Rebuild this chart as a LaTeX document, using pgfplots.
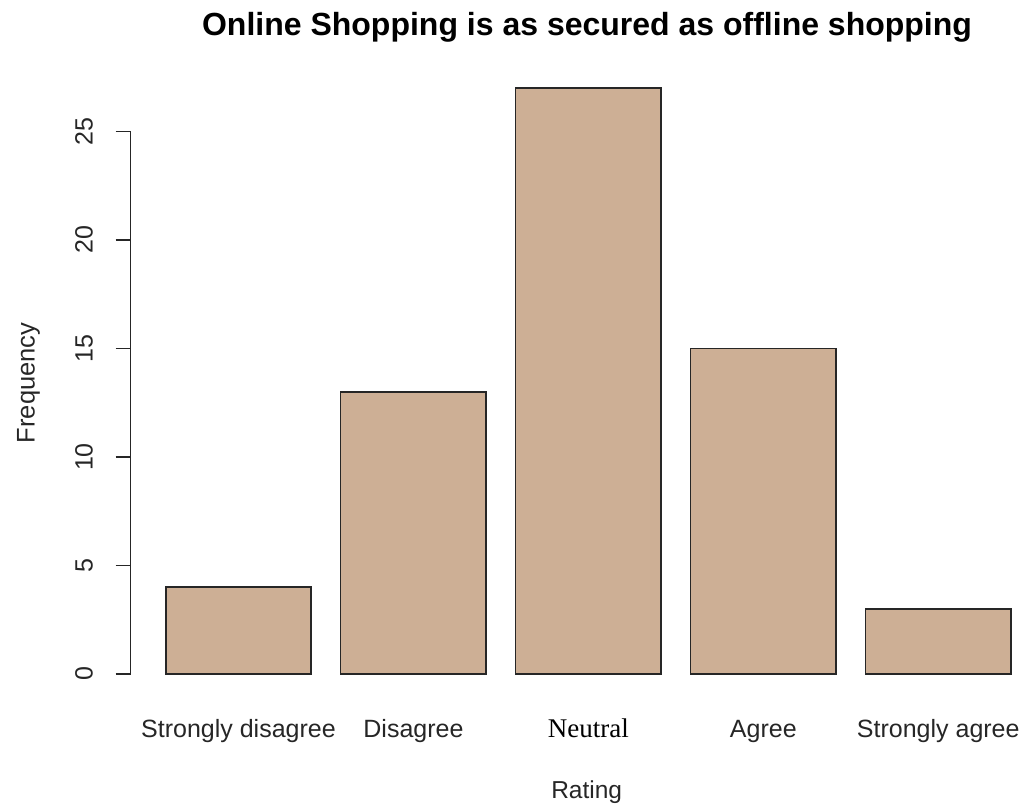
\documentclass[border=0pt]{standalone}
\usepackage{fontspec}
\setmainfont{Liberation Sans}
\newfontfamily\seriffont{Liberation Serif}
\usepackage{pgfplots}
\pgfplotsset{compat=1.18}
\definecolor{barcol}{HTML}{CDAF95}
\definecolor{ink}{HTML}{262626}
\begin{document}
\begin{tikzpicture}
\useasboundingbox (0,0) rectangle (1024pt,805pt);
\begin{axis}[
  at={(130.7pt,131pt)}, anchor=south west,
  scale only axis,
  width=886.3pt, height=607.6pt,
  xmin=-0.616, xmax=4.45,
  ymin=0, ymax=28,
  axis line style={draw=none},
  xtick={0,1,2,3,4},
  xticklabels={Strongly disagree, Disagree, {\color{black}\seriffont\fontsize{27}{30}\selectfont Neutral}, Agree, Strongly agree},
  ytick={0,5,10,15,20,25},
  xtick pos=left, ytick pos=left,
  tick align=outside,
  major tick length=15pt,
  major x tick style={draw=none},
  y tick style={draw=ink, line width=1.6pt},
  /pgf/number format/assume math mode=true,
  ticklabel style={font=\fontsize{25}{30}\selectfont, text=ink, inner sep=0pt},
  xticklabel style={anchor=base, yshift=-48.3pt},
  yticklabel style={rotate=90, anchor=base},
  yticklabel shift=23pt,
  title={Online Shopping is as secured as offline shopping},
  every axis title/.style={at={(rel axis cs:0,0)}, xshift=456.3pt, yshift=638pt, anchor=base, inner sep=0pt, font=\bfseries\fontsize{32}{36}\selectfont, text=black},
  xlabel={Rating},
  every axis x label/.style={at={(rel axis cs:0,0)}, xshift=456pt, yshift=-124.3pt, anchor=base, inner sep=0pt, font=\fontsize{24.5}{30}\selectfont, text=ink},
  ylabel={Frequency},
  every axis y label/.style={at={(rel axis cs:0,0)}, xshift=-96pt, yshift=291pt, rotate=90, anchor=base, inner sep=0pt, font=\fontsize{25.5}{30}\selectfont, text=ink},
  clip=false,
]
\addplot[ybar, bar width=0.8317, bar shift=0pt, fill=barcol, draw=ink, line width=1.6pt]
  coordinates {(0,4) (1,13) (2,27) (3,15) (4,3)};
\draw[ink, line width=1.6pt] (axis cs:-0.616,0) -- (axis cs:-0.616,25);
\end{axis}
\end{tikzpicture}
\end{document}
